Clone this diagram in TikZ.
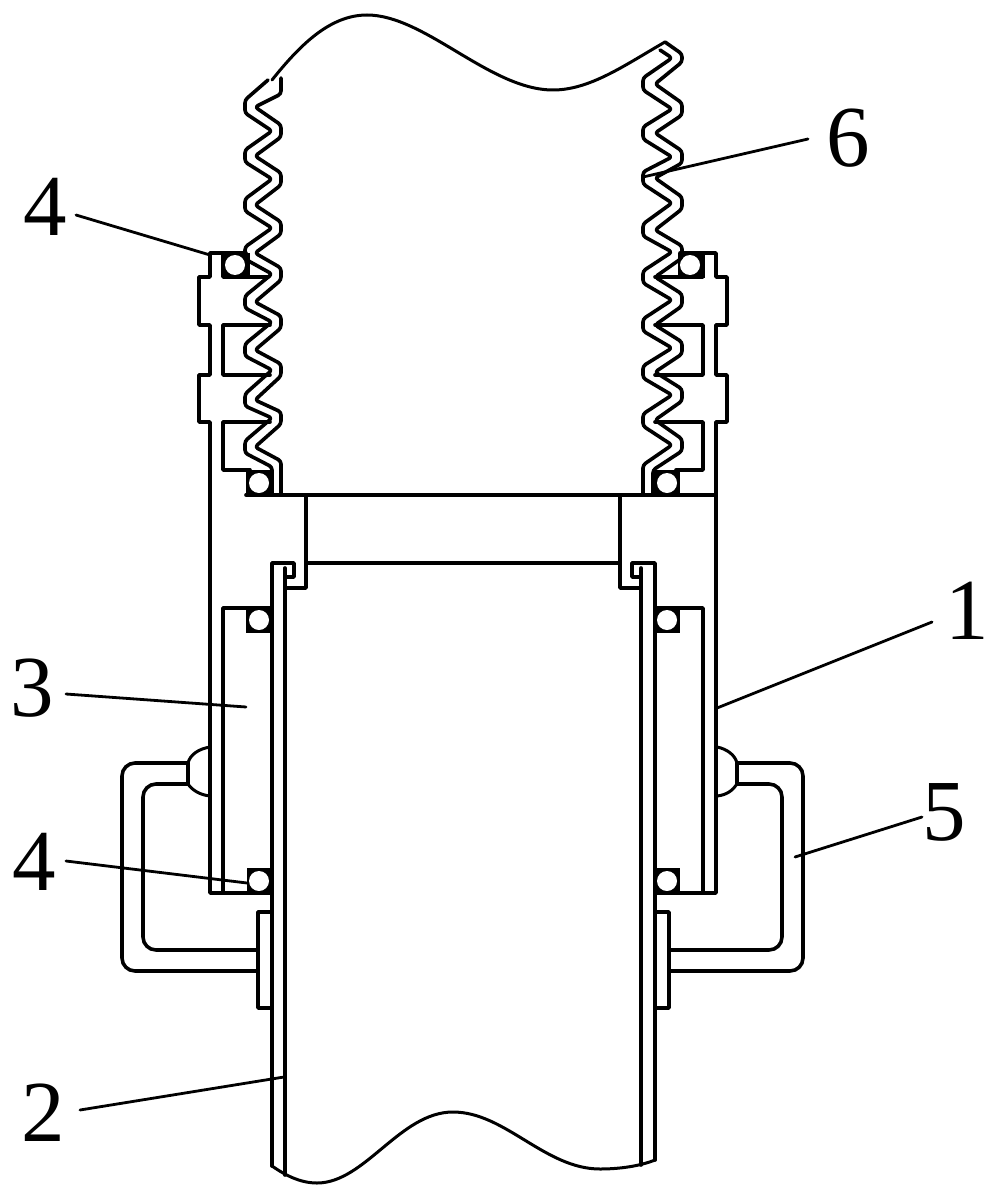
\documentclass[tikz,border=0pt]{standalone}
\usepackage{fontspec}
\setmainfont{Liberation Serif}
\begin{document}
\begin{tikzpicture}[x=1pt,y=-1pt,
  ln/.style={line width=3.6pt,line join=round,line cap=round},
  zz/.style={line width=3.6pt,line join=round,line cap=round,rounded corners=3pt},
  hd/.style={line width=3.6pt,line join=round,line cap=round,rounded corners=13pt},
  wave/.style={line width=3pt,line cap=round},
  lead/.style={line width=2.8pt,line cap=round},
  ballw/.style={circle,fill=white,draw=none,minimum size=20pt,inner sep=0pt},
  lab/.style={font=\fontsize{87}{87}\selectfont,inner sep=0pt}]
\useasboundingbox (0,0) rectangle (995,1201);
% seal boxes
\foreach \x/\y/\w in {223/253/27,246/470/26,246/608/26,247/868/25,678/253/27,654/470/26,654/608/26,655/868/25}{
  \fill (\x,\y) rectangle ++(\w,25);
}
\node[ballw] (b1) at (235,265) {};
\node[ballw] (b2) at (259,483) {};
\node[ballw] (b3) at (259,620) {};
\node[ballw] (b4) at (259,881) {};
\node[ballw] (b5) at (690,265) {};
\node[ballw] (b6) at (667,483) {};
\node[ballw] (b7) at (667,620) {};
\node[ballw] (b8) at (667,881) {};
% left housing
\draw[ln] (246,253) -- (210,253) -- (210,277) -- (199,277) -- (199,325) -- (210,325) -- (210,375) -- (199,375) -- (199,422) -- (210,422) -- (210,893) -- (272,893);
\draw[ln] (223,253) -- (223,277) -- (268,277);
\draw[ln] (270,325) -- (223,325) -- (223,375) -- (270,375);
\draw[ln] (270,422) -- (223,422) -- (223,470) -- (250,470);
\draw[ln] (272,608) -- (223,608) -- (223,893);
% right housing
\draw[ln] (680,253) -- (716,253) -- (716,277) -- (727,277) -- (727,325) -- (716,325) -- (716,375) -- (727,375) -- (727,422) -- (716,422) -- (716,893) -- (655,893);
\draw[ln] (703,253) -- (703,277) -- (655,277);
\draw[ln] (655,325) -- (703,325) -- (703,375) -- (655,375);
\draw[ln] (655,422) -- (703,422) -- (703,470) -- (676,470);
\draw[ln] (655,608) -- (703,608) -- (703,893);
% bridge
\draw[ln] (246,495) -- (716,495);
\draw[ln] (306,495) -- (306,588) -- (285,588);
\draw[ln] (620,495) -- (620,588) -- (641,588);
\draw[ln] (306,563) -- (620,563);
% tube
\draw[ln] (285,568) -- (285,1175);
\draw[ln] (641,568) -- (641,1165);
\draw[ln] (272,1166) -- (272,563) -- (294,563) -- (294,577) -- (285,577);
\draw[ln] (655,1160) -- (655,563) -- (632,563) -- (632,577) -- (641,577);
% bellows left
\draw[zz] (268,80) -- (245,100) -- (245,113) -- (272,131) -- (245,150) -- (245,162) -- (272,179) -- (245,199) -- (245,211) -- (272,228) -- (245,247) -- (245,259) -- (272,274) -- (245,296) -- (245,308) -- (272,322) -- (245,344) -- (245,356) -- (272,370) -- (245,394) -- (245,406) -- (272,418) -- (245,441) -- (245,453) -- (272,467) -- (272,495);
\draw[zz] (281,78) -- (281,94) -- (255,107) -- (281,125) -- (281,137) -- (255,156) -- (281,173) -- (281,185) -- (255,205) -- (281,222) -- (281,234) -- (255,253) -- (281,268) -- (281,280) -- (255,302) -- (281,316) -- (281,328) -- (255,350) -- (281,364) -- (281,376) -- (255,400) -- (281,412) -- (281,424) -- (255,447) -- (281,461) -- (281,495);
% bellows right
\draw[zz] (660,50) -- (672,58) -- (643,78) -- (643,90) -- (672,109) -- (643,127) -- (643,139) -- (672,157) -- (643,172) -- (643,184) -- (672,203) -- (643,224) -- (643,236) -- (672,252) -- (643,271) -- (643,283) -- (672,300) -- (643,319) -- (643,331) -- (672,348) -- (643,366) -- (643,378) -- (672,395) -- (643,414) -- (643,426) -- (672,445) -- (643,465) -- (643,495);
\draw[zz] (665,42) -- (682,54) -- (682,62) -- (655,84) -- (682,103) -- (682,115) -- (655,133) -- (682,151) -- (682,163) -- (655,178) -- (682,197) -- (682,209) -- (655,230) -- (682,246) -- (682,258) -- (655,277) -- (682,294) -- (682,306) -- (655,325) -- (682,342) -- (682,354) -- (655,372) -- (682,389) -- (682,401) -- (655,420) -- (682,439) -- (682,451) -- (653,470) -- (653,495);
% top wave
\draw[wave] (272,80) .. controls (300,45) and (330,15) .. (367,15) .. controls (425,15) and (490,90) .. (553,90) .. controls (590,90) and (625,65) .. (665,42);
% bottom wave
\draw[wave] (272,1166) .. controls (285,1175) and (300,1183) .. (317,1183) .. controls (365,1183) and (400,1112) .. (453,1112) .. controls (505,1112) and (545,1169) .. (600,1169) .. controls (620,1169) and (640,1166) .. (655,1160);
% handles
\draw[hd] (188,763) -- (122,763) -- (122,971) -- (258,971);
\draw[hd] (188,784) -- (143,784) -- (143,950) -- (258,950);
\draw[ln] (188,763) -- (188,784);
\draw[wave] (188,763) .. controls (190,755) and (198,749) .. (210,747);
\draw[wave] (188,784) .. controls (192,790) and (200,795) .. (210,796);
\draw[hd] (737,763) -- (803,763) -- (803,971) -- (669,971);
\draw[hd] (737,784) -- (782,784) -- (782,950) -- (669,950);
\draw[ln] (737,763) -- (737,784);
\draw[wave] (737,763) .. controls (735,755) and (727,749) .. (717,747);
\draw[wave] (737,784) .. controls (733,790) and (727,795) .. (717,796);
% flanges
\draw[ln] (272,912) -- (258,912) -- (258,1008) -- (272,1008);
\draw[ln] (655,912) -- (669,912) -- (669,1008) -- (655,1008);
% labels
\node[lab] (n4a) at (45,207) {4};
\node[lab] (n6) at (848,138) {6};
\node[lab] (n1) at (967,611) {1};
\node[lab] (n5) at (944,812) {5};
\node[lab] (n3) at (32,688) {3};
\node[lab] (n4b) at (34,862) {4};
\node[lab] (n2) at (43,1113) {2};
\coordinate (s4a) at (76,215); \coordinate (p4a) at (210,255);
\coordinate (s6) at (808,139); \coordinate (p6) at (643,177);
\coordinate (s1) at (932,622); \coordinate (p1) at (717,708);
\coordinate (s5) at (922,817); \coordinate (p5) at (795,857);
\coordinate (s3) at (66,694); \coordinate (p3) at (246,707);
\coordinate (s4b) at (66,861); \coordinate (p4b) at (247,883);
\coordinate (s2) at (80,1110); \coordinate (p2) at (284,1077);
\draw[lead] (s4a) -- (p4a);
\draw[lead] (s6) -- (p6);
\draw[lead] (s1) -- (p1);
\draw[lead] (s5) -- (p5);
\draw[lead] (s3) -- (p3);
\draw[lead] (s4b) -- (p4b);
\draw[lead] (s2) -- (p2);
\end{tikzpicture}
\end{document}
